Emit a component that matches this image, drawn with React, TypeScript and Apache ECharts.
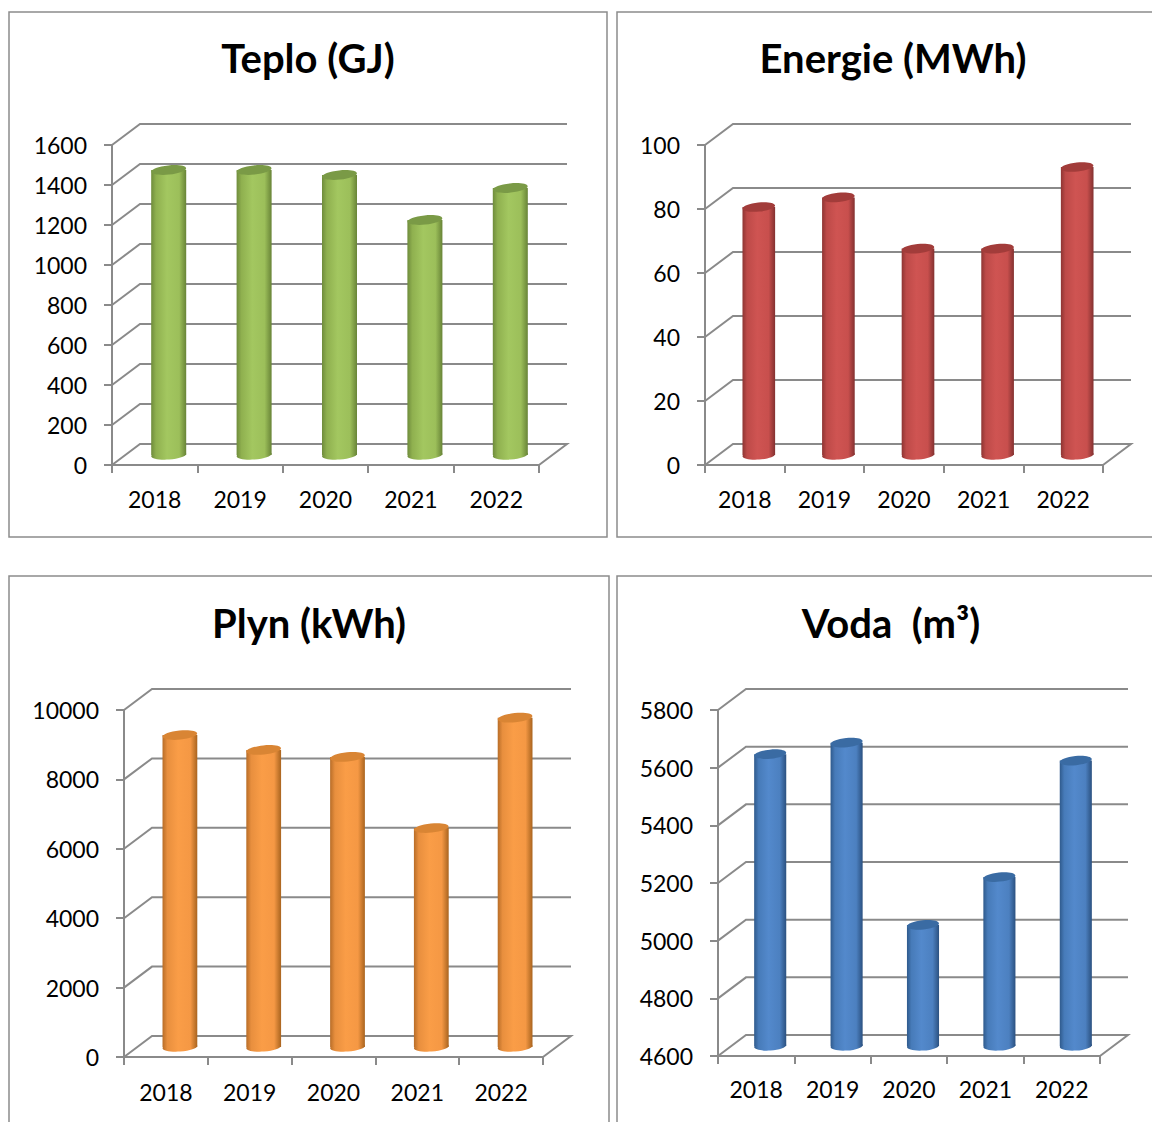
import React, { useEffect, useRef } from "react";
import * as echarts from "echarts";

const years = ["2018", "2019", "2020", "2021", "2022"];
const teplo = [1425, 1425, 1400, 1175, 1335];
const energie = [77.5, 80.5, 64.5, 64.5, 90];
const plyn = [8990, 8560, 8360, 6310, 9490];
const voda = [5612, 5652, 5020, 5186, 5590];

const teploTicks = [0, 200, 400, 600, 800, 1000, 1200, 1400, 1600];
const energieTicks = [0, 20, 40, 60, 80, 100];
const plynTicks = [0, 2000, 4000, 6000, 8000, 10000];
const vodaTicks = [4600, 4800, 5000, 5200, 5400, 5600, 5800];

const FONT = "Lato";
const AXIS = "#8a8a8a";
const DX = 28;
const DY = 21;
const LIFT = 10;

const panels = [
  { title: "Teplo (GJ)", tx: 303, ty: 53, values: teplo, ticks: teploTicks, box: [112, 145, 427, 320], ratio: 0.41, lm: 22, c: ["#6f8c3c", "#8fb04f", "#a3c760", "#9cbf5a", "#688437"], cap: "#7a9a46" },
  { title: "Energie (MWh)", tx: 888, ty: 53, values: energie, ticks: energieTicks, box: [705, 145, 398, 320], ratio: 0.41, lm: 22, c: ["#8e3533", "#bd4a48", "#cf5452", "#c84f4d", "#833130"], cap: "#a23c3a" },
  { title: "Plyn (kWh)", tx: 304, ty: 618, values: plyn, ticks: plynTicks, box: [124, 710, 419, 347], ratio: 0.415, lm: 23, c: ["#b86d28", "#e88f3e", "#fa9d47", "#f59844", "#a9641f"], cap: "#d98534" },
  { title: "Voda  (m³)", tx: 886, ty: 618, values: voda, ticks: vodaTicks, box: [718, 710, 382, 346], ratio: 0.42, lm: 21, c: ["#2f5a8c", "#477bb9", "#5389cc", "#4c80c0", "#2b5180"], cap: "#3a6ba3" },
];

const borders = [
  [9, 12, 598, 525],
  [617, 12, 560, 525],
  [9, 576, 600, 580],
  [617, 576, 560, 580],
];

function gridItem(params: any, api: any) {
  const cs = params.coordSys;
  const v = api.value(0);
  const y = api.coord([0, v])[1];
  const x0 = cs.x;
  const x1 = cs.x + cs.width;
  const style = { stroke: AXIS, lineWidth: 2, fill: "none" };
  const isBase = y >= cs.y + cs.height - 0.5;
  const points = isBase
    ? [[x0, y], [x0 + DX, y - DY], [x1 + DX, y - DY], [x1, y]]
    : [[x0, y], [x0 + DX, y - DY], [x1 + DX, y - DY]];
  return { type: "polyline", shape: { points }, style };
}

function barItem(colors: string[], cap: string, ratio: number) {
  return (params: any, api: any) => {
    const cs = params.coordSys;
    const i = api.value(0);
    const p = api.coord([i, api.value(1)]);
    const w = api.size([1, 0])[0] * ratio;
    const cx = p[0] + DX / 2;
    const top = p[1] - LIFT;
    const base = cs.y + cs.height - LIFT;
    const ry = 4.6;
    const fill = new echarts.graphic.LinearGradient(0, 0, 1, 0, [
      { offset: 0, color: colors[0] },
      { offset: 0.14, color: colors[1] },
      { offset: 0.45, color: colors[2] },
      { offset: 0.8, color: colors[3] },
      { offset: 1, color: colors[4] },
    ]);
    return {
      type: "group",
      children: [
        { type: "ellipse", x: cx, y: base, rotation: 0.07, shape: { cx: 0, cy: 0, rx: w / 2, ry }, style: { fill } },
        { type: "rect", shape: { x: cx - w / 2, y: top, width: w, height: base - top }, style: { fill } },
        { type: "ellipse", x: cx, y: top, rotation: 0.1, shape: { cx: 0, cy: 0, rx: w / 2, ry }, style: { fill: cap } },
      ],
    };
  };
}

export default function App() {
  const ref = useRef<HTMLDivElement>(null);
  useEffect(() => {
    document.body.style.margin = "0";
    const chart = echarts.init(ref.current!, undefined, { renderer: "svg" });
    const grid = panels.map((p) => ({ left: p.box[0], top: p.box[1], width: p.box[2], height: p.box[3], containLabel: false }));
    const xAxis = panels.map((p, i) => ({
      type: "category",
      gridIndex: i,
      data: years,
      boundaryGap: true,
      axisLine: { lineStyle: { color: AXIS, width: 2 } },
      axisTick: { show: true, length: 8, alignWithLabel: false, lineStyle: { color: AXIS, width: 2 } },
      axisLabel: { color: "#000", fontFamily: FONT, fontSize: 23, margin: p.lm, interval: 0 },
    }));
    const yAxis = panels.map((p, i) => ({
      type: "value",
      gridIndex: i,
      min: p.ticks[0],
      max: p.ticks[p.ticks.length - 1],
      interval: p.ticks[1] - p.ticks[0],
      axisLine: { show: true, lineStyle: { color: AXIS, width: 2 } },
      axisTick: { show: true, length: 8, lineStyle: { color: AXIS, width: 2 } },
      splitLine: { show: false },
      axisLabel: { color: "#000", fontFamily: FONT, fontSize: 23, margin: 25, padding: [2, 0, 0, 0], formatter: (v: number) => String(v) },
    }));
    const series: any[] = [];
    panels.forEach((p, i) => {
      series.push({
        type: "custom",
        xAxisIndex: i,
        yAxisIndex: i,
        data: p.ticks.map((t) => [t]),
        encode: { y: 0 },
        silent: true,
        z: 1,
        renderItem: gridItem,
      });
      series.push({
        type: "custom",
        xAxisIndex: i,
        yAxisIndex: i,
        data: p.values.map((v, j) => [j, v]),
        encode: { x: 0, y: 1 },
        silent: true,
        z: 3,
        renderItem: barItem(p.c, p.cap, p.ratio),
      });
    });
    chart.setOption({
      animation: false,
      backgroundColor: "#ffffff",
      title: panels.map((p) => ({
        text: p.title,
        left: p.tx,
        top: p.ty,
        textAlign: "center",
        textVerticalAlign: "middle",
        textStyle: { fontFamily: FONT, fontWeight: "bold", fontSize: 40, color: "#000" },
      })),
      grid,
      xAxis,
      yAxis,
      series,
      graphic: borders.map((b) => ({
        type: "rect",
        silent: true,
        shape: { x: b[0], y: b[1], width: b[2], height: b[3] },
        style: { fill: "none", stroke: "#8c8c8c", lineWidth: 1.5 },
      })),
    });
    return () => chart.dispose();
  }, []);
  return <div ref={ref} style={{ position: "absolute", left: 0, top: 0, width: 1152, height: 1122, overflow: "hidden" }} />;
}
